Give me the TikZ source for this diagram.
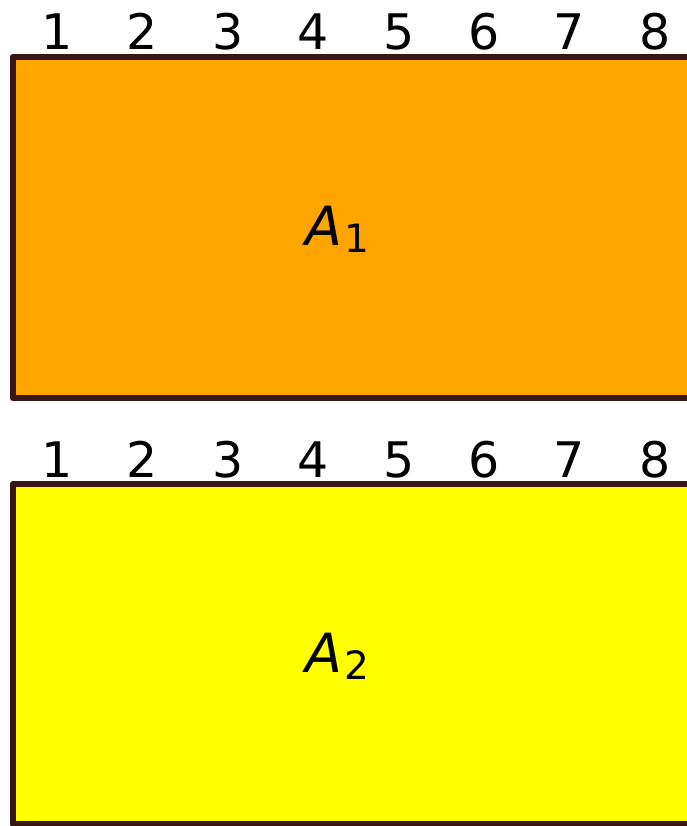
\documentclass[tikz,border=0pt]{standalone}
\usepackage{fontspec}
\setmainfont{DejaVu Sans}
\usepackage{xcolor}
\definecolor{edgebrown}{RGB}{58,22,18}
\definecolor{blockorange}{RGB}{255,165,0}
\definecolor{blockyellow}{RGB}{255,255,0}

\newcommand{\arealabel}[1]{\textit{A}\kern2pt\raisebox{-7pt}{\fontsize{39}{42}\selectfont #1}}

\begin{document}
\begin{tikzpicture}[x=1pt,y=-1pt,line width=6pt,line cap=round,line join=round]
  \path[use as bounding box] (0,0) rectangle (686,826);
  \tikzset{
    digit/.style={anchor=base,inner sep=0pt,font=\fontsize{49}{52}\selectfont},
    arealbl/.style={inner sep=0pt,font=\fontsize{54}{58}\selectfont}
  }

  % upper block
  \draw[edgebrown,fill=blockorange] (12.5,57) rectangle (710,398);
  \foreach \i in {1,...,8}
    \node[digit] (up\i) at ({57+85.4*(\i-1)},50) {\i};
  \node[arealbl] (areaone) at (337,229) {\arealabel{1}};

  % lower block
  \draw[edgebrown,fill=blockyellow] (12.5,484) rectangle (710,824);
  \foreach \i in {1,...,8}
    \node[digit] (low\i) at ({57+85.4*(\i-1)},477) {\i};
  \node[arealbl] (areatwo) at (337,656) {\arealabel{2}};
\end{tikzpicture}
\end{document}
